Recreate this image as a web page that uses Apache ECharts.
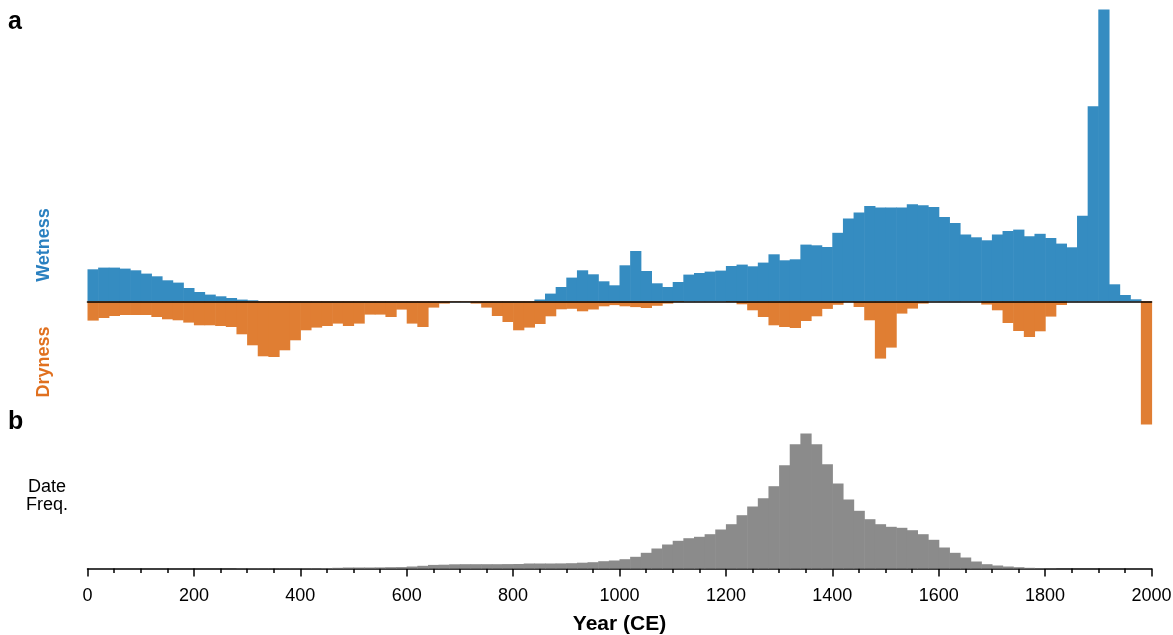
<!DOCTYPE html>
<html>
<head>
<meta charset="utf-8">
<script src="https://cdn.jsdelivr.net/npm/echarts@6/dist/echarts.min.js"></script>
<style>
  html, body { margin: 0; padding: 0; background: #ffffff; }
  #chart { width: 1173px; height: 635px; }
</style>
</head>
<body>
<div id="chart"></div>
<script>
// ---- Data (20-year bins, start year of each bin) ----
const binStarts = [
  0, 20, 40, 60, 80, 100, 120, 140, 160, 180,
  200, 220, 240, 260, 280, 300, 320, 340, 360, 380,
  400, 420, 440, 460, 480, 500, 520, 540, 560, 580,
  600, 620, 640, 660, 680, 700, 720, 740, 760, 780,
  800, 820, 840, 860, 880, 900, 920, 940, 960, 980,
  1000, 1020, 1040, 1060, 1080, 1100, 1120, 1140, 1160, 1180,
  1200, 1220, 1240, 1260, 1280, 1300, 1320, 1340, 1360, 1380,
  1400, 1420, 1440, 1460, 1480, 1500, 1520, 1540, 1560, 1580,
  1600, 1620, 1640, 1660, 1680, 1700, 1720, 1740, 1760, 1780,
  1800, 1820, 1840, 1860, 1880, 1900, 1920, 1940, 1960, 1980
];
const binWidth = 20;

// Wetness (relative index, upward)
const wetness = [
  32, 33.7, 33.7, 32.7, 31, 27.7, 25, 21, 18.7, 13.3,
  9.3, 6.7, 5, 3.3, 1.7, 1, 0, 0, 0, 0,
  0, 0, 0, 0, 0, 0, 0, 0, 0, 0,
  0, 0, 0, 0, 0, 0, 0, 0, 0, 0,
  0, 0, 1.8, 7.7, 14.3, 23.7, 31, 27, 20, 16,
  36, 50.3, 30.3, 18, 14.3, 19.3, 26.7, 28.3, 29.7, 30.7,
  35.3, 36.7, 35, 38.7, 47, 41, 42, 56.7, 56, 54.3,
  68.5, 82.7, 88.7, 95.3, 93.7, 93.7, 93.7, 97, 96, 94.3,
  84.3, 78.3, 66.7, 64, 61, 66.7, 70.3, 71.7, 65, 67.5,
  63.3, 57.7, 54, 85.5, 195, 291.7, 17, 6.3, 2, 0
];

// Dryness (relative index, downward)
const dryness = [
  -19.3, -16.7, -14.7, -13.7, -13.7, -13.7, -15.7, -18, -19, -21.3,
  -24, -24, -24.7, -25.7, -33, -44, -55, -55.7, -49, -39,
  -29, -26.3, -24.7, -22.3, -24.7, -22.3, -13.3, -13.3, -15.7, -8.3,
  -22.3, -25.7, -6.3, -2.3, -0.5, -0.5, -2.3, -6.3, -14.7, -20.7,
  -29, -26.3, -22.7, -15, -8, -7.5, -10, -8.2, -5, -3.8,
  -5, -5.8, -6.7, -4.5, -2.3, -0.7, 0, 0, 0, 0,
  -0.7, -3, -9, -15.7, -24, -25.7, -26.7, -19.7, -15, -7.6,
  -3.5, -0.8, -5.7, -19, -57.3, -46.3, -12.3, -7.3, -2.3, 0,
  0, 0, 0, 0, -3.3, -9, -21.7, -29.7, -35.7, -30,
  -15.3, -3.7, 0, 0, 0, 0, 0, 0, 0, -123.3
];

// Date frequency (panel b)
const dateFreq = [
  0, 0, 0, 0, 0, 0, 0, 0, 0, 0,
  0, 0, 0, 0, 0.2, 0.2, 0.2, 0.2, 0.2, 0.2,
  0.3, 0.3, 0.5, 0.7, 1, 1, 1, 1.1, 1.3, 1.4,
  2, 2.7, 3.6, 3.8, 4.2, 4.3, 4.3, 4.3, 4.3, 4.4,
  4.5, 5, 5, 5, 5.1, 5.3, 5.8, 6.3, 7.3, 8,
  9.3, 11.7, 15.7, 20, 24, 27.7, 30.3, 31.7, 34.3, 39,
  44.3, 53.3, 62, 70.3, 82.3, 103.3, 124.3, 135, 124.3, 104.3,
  85, 69, 57.7, 49.3, 44.3, 41.7, 40.7, 38.3, 34.3, 28.7,
  21, 15.7, 11, 7, 4.3, 3, 2, 1.3, 0.7, 0.4,
  0.2, 0, 0, 0, 0, 0, 0, 0, 0, 0
];

const xTickLabels = ['0', '200', '400', '600', '800', '1000', '1200', '1400', '1600', '1800', '2000'];

// ---- Styling ----
const BLUE = '#358cc1';
const ORANGE = '#e07e33';
const GREY = '#8b8b8b';
const FONT = '"Liberation Sans", Arial, Helvetica, sans-serif';

function toData(vals) {
  return binStarts.map((s, i) => [s, s + binWidth, vals[i]]);
}

function makeRender(color) {
  return function (params, api) {
    const x0 = api.value(0);
    const x1 = api.value(1);
    const v = api.value(2);
    if (!v) return null;
    const p0 = api.coord([x0, 0]);
    const p1 = api.coord([x1, v]);
    return {
      type: 'rect',
      shape: {
        x: p0[0],
        y: Math.min(p0[1], p1[1]),
        width: p1[0] - p0[0] + 0.6,
        height: Math.abs(p1[1] - p0[1])
      },
      style: { fill: color }
    };
  };
}

const chart = echarts.init(document.getElementById('chart'), null, { renderer: 'canvas' });

const option = {
  animation: false,
  backgroundColor: '#ffffff',
  textStyle: { fontFamily: FONT },
  grid: [
    { left: 87.5, width: 1064, top: 9.3, height: 416, containLabel: false, outerBoundsMode: 'none' },
    { left: 87.5, width: 1064, top: 432.5, height: 136, containLabel: false, outerBoundsMode: 'none' }
  ],
  xAxis: [
    {
      type: 'value', gridIndex: 0, min: 0, max: 2000, interval: 200,
      z: 10,
      axisLine: { show: true, onZero: true, lineStyle: { color: '#000', width: 1.6 } },
      axisTick: { show: false },
      axisLabel: { show: false },
      splitLine: { show: false }
    },
    {
      type: 'value', gridIndex: 1, min: 0, max: 2000, interval: 200,
      position: 'bottom',
      axisLine: { show: true, onZero: false, lineStyle: { color: '#000', width: 1.5 } },
      axisTick: { show: true, length: 8, lineStyle: { color: '#000', width: 1.5 } },
      minorTick: { show: true, splitNumber: 4, length: 4.5, lineStyle: { color: '#000', width: 1.5 } },
      axisLabel: {
        show: true, color: '#000', fontSize: 18, fontFamily: FONT, margin: 19,
        formatter: function (v) {
          const idx = xTickLabels.indexOf(String(v));
          return idx >= 0 ? xTickLabels[idx] : '';
        }
      },
      splitLine: { show: false },
      name: 'Year (CE)',
      nameLocation: 'middle',
      nameGap: 56,
      nameMoveOverlap: false,
      nameTextStyle: { color: '#000', fontSize: 21, fontWeight: 'bold', fontFamily: FONT, verticalAlign: 'middle' }
    }
  ],
  yAxis: [
    {
      type: 'value', gridIndex: 0, min: -124, max: 292,
      show: false, splitLine: { show: false }
    },
    {
      type: 'value', gridIndex: 1, min: 0, max: 136,
      show: false, splitLine: { show: false }
    }
  ],
  series: [
    {
      name: 'Wetness', type: 'custom', xAxisIndex: 0, yAxisIndex: 0,
      renderItem: makeRender(BLUE), data: toData(wetness),
      encode: { x: [0, 1], y: 2 }, z: 2
    },
    {
      name: 'Dryness', type: 'custom', xAxisIndex: 0, yAxisIndex: 0,
      renderItem: makeRender(ORANGE), data: toData(dryness),
      encode: { x: [0, 1], y: 2 }, z: 2
    },
    {
      name: 'Date Freq.', type: 'custom', xAxisIndex: 1, yAxisIndex: 1,
      renderItem: makeRender(GREY), data: toData(dateFreq),
      encode: { x: [0, 1], y: 2 }, z: 2
    }
  ],
  graphic: [
    {
      type: 'text', left: 8, top: 10,
      style: { text: 'a', fill: '#000', font: 'bold 25px ' + FONT }
    },
    {
      type: 'text', left: 8, top: 410,
      style: { text: 'b', fill: '#000', font: 'bold 25px ' + FONT }
    },
    {
      type: 'text', x: 44, y: 245, rotation: Math.PI / 2,
      style: { text: 'Wetness', fill: '#2a80c0', font: 'bold 18px ' + FONT, textAlign: 'center', textVerticalAlign: 'middle' }
    },
    {
      type: 'text', x: 44, y: 362, rotation: Math.PI / 2,
      style: { text: 'Dryness', fill: '#e0701f', font: 'bold 18px ' + FONT, textAlign: 'center', textVerticalAlign: 'middle' }
    },
    {
      type: 'text', x: 47, y: 496,
      style: { text: 'Date\nFreq.', fill: '#000', font: '18px ' + FONT, textAlign: 'center', textVerticalAlign: 'middle', lineHeight: 18 }
    }
  ]
};

chart.setOption(option);
</script>
</body>
</html>
